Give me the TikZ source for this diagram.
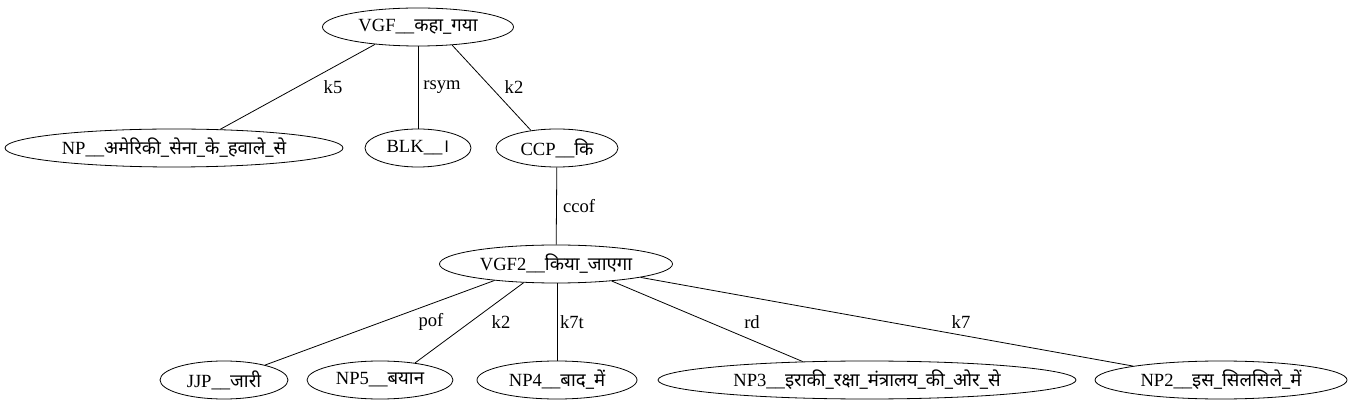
\documentclass[tikz,border=0pt]{standalone}
\usepackage{fontspec}
\setmainfont{Liberation Serif}
\newfontfamily\dev[Script=Devanagari]{Noto Sans}
\usetikzlibrary{shapes.geometric}
\newcommand{\lbl}[2]{\makebox[0pt][c]{#1\_\_{\dev #2}}}
\tikzset{
  nd/.style={draw, ellipse, inner sep=0pt, minimum height=38pt, font=\fontsize{18.6}{20}\selectfont},
  lab/.style={inner sep=0pt, font=\fontsize{18.6}{20}\selectfont}
}
\begin{document}
\begin{tikzpicture}[x=1pt, y=-1pt, line width=0.8pt]
\useasboundingbox (0,0) rectangle (1351,411);
\node[nd, minimum width=191pt] (vgf) at (418,27) {\lbl{VGF}{कहा\_गया}};
\node[nd, minimum width=338pt] (np) at (174,148) {\lbl{NP}{अमेरिकी\_सेना\_के\_हवाले\_से}};
\node[nd, minimum width=106pt] (blk) at (418,148) {\lbl{BLK}{।}};
\node[nd, minimum width=122pt] (ccp) at (557,148) {\lbl{CCP}{कि}};
\node[nd, minimum width=233pt] (vgf2) at (556,264) {\lbl{VGF2}{किया\_जाएगा}};
\node[nd, minimum width=128pt] (jjp) at (224,380) {\lbl{JJP}{जारी}};
\node[nd, minimum width=146pt] (np5) at (380,380) {\lbl{NP5}{बयान}};
\node[nd, minimum width=160pt] (np4) at (557,380) {\lbl{NP4}{बाद\_में}};
\node[nd, minimum width=418pt] (np3) at (867,380) {\lbl{NP3}{इराकी\_रक्षा\_मंत्रालय\_की\_ओर\_से}};
\node[nd, minimum width=252pt] (np2) at (1221,380) {\lbl{NP2}{इस\_सिलसिले\_में}};

\draw (vgf.202) -- (np.22);
\draw (vgf.south -| blk.north) -- (blk);
\draw (vgf.332) -- (ccp.146);
\draw (ccp) -- (vgf2);
\draw (vgf2.195) -- (jjp.20);
\draw (vgf2.210) -- (np5.26);
\draw (vgf2.south -| np4.north) -- (np4);
\draw (vgf2.343) -- (np3.164);
\draw (vgf2.351) -- (np2.171);

\node[lab] (l1) at (333,87) {k5};
\node[lab] (l2) at (442,87) {rsym};
\node[lab] (l3) at (514,87) {k2};
\node[lab] (l4) at (579,206) {ccof};
\node[lab] (l5) at (431,322) {pof};
\node[lab] (l6) at (501,322) {k2};
\node[lab] (l7) at (572,322) {k7t};
\node[lab] (l8) at (752,322) {rd};
\node[lab] (l9) at (961,322) {k7};
\end{tikzpicture}
\end{document}
